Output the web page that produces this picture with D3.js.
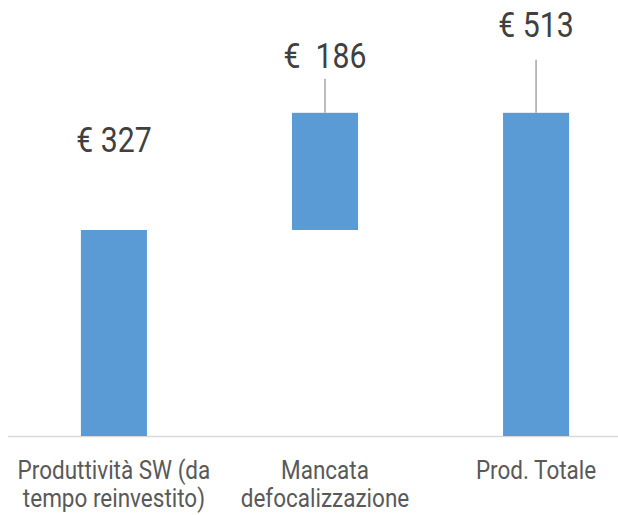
<!DOCTYPE html>
<html>
<head>
<meta charset="utf-8">
<script src="https://cdn.jsdelivr.net/npm/d3@7"></script>
<style>
  body { margin: 0; background: #fff; }
  text { font-family: Roboto, "Noto Sans", sans-serif; white-space: pre; }
</style>
</head>
<body>
<div id="wrapper"></div>
<script>
// waterfall: base + step = total
const categories = [
    ["Produttività SW (da", "tempo reinvestito)"],
    ["Mancata", "defocalizzazione"],
    ["Prod. Totale"],
]
const barStart = [0, 327, 0]
const barEnd = [327, 513, 513]
const valueLabels = ["€ 327", "€  186", "€ 513"]

function drawWaterfall() {
    const dimensions = {
        width: 618,
        height: 515,
        baseline: 436,
    }

    // how far above the bar top each value label sits, and leader line tops
    const labelLift = [78, 45, 76]
    const leaderGap = [null, 11, 23]

    const wrapper = d3.select("#wrapper")
        .append("svg")
        .attr("width", dimensions.width)
        .attr("height", dimensions.height)

    const xScaler = d3.scaleBand()
        .domain(d3.range(categories.length))
        .range([8.5, 641.5])
        .paddingInner(0.687)
        .paddingOuter(0.343)

    const yScaler = d3.scaleLinear()
        .domain([0, 600])
        .range([dimensions.baseline, 58])

    const cx = i => xScaler(i) + xScaler.bandwidth() / 2

    // axis line
    wrapper.append("line")
        .attr("x1", 8)
        .attr("x2", dimensions.width)
        .attr("y1", dimensions.baseline + 0.5)
        .attr("y2", dimensions.baseline + 0.5)
        .attr("stroke", "#d9d9d9")
        .attr("stroke-width", 1.5)

    const idx = d3.range(categories.length)

    wrapper.append("g")
        .selectAll("rect")
        .data(idx)
        .join("rect")
        .attr("x", i => xScaler(i))
        .attr("width", xScaler.bandwidth())
        .attr("y", i => yScaler(barEnd[i]))
        .attr("height", i => yScaler(barStart[i]) - yScaler(barEnd[i]))
        .attr("fill", "#5b9bd5")

    // leader lines
    wrapper.append("g")
        .selectAll("line")
        .data(idx.filter(i => leaderGap[i] !== null))
        .join("line")
        .attr("x1", i => cx(i))
        .attr("x2", i => cx(i))
        .attr("y1", i => yScaler(barEnd[i]))
        .attr("y2", i => yScaler(barEnd[i]) - labelLift[i] + leaderGap[i])
        .attr("stroke", "#a6a6a6")
        .attr("stroke-width", 1.5)

    // value labels
    wrapper.append("g")
        .selectAll("g")
        .data(idx)
        .join("g")
        .attr("transform", i => `translate(${cx(i)},${yScaler(barEnd[i]) - labelLift[i]}) scale(0.84,1)`)
        .append("text")
        .attr("text-anchor", "middle")
        .attr("font-size", "36px")
        .attr("fill", "#404040")
        .text(i => valueLabels[i])

    // category labels
    const cat = wrapper.append("g")
        .selectAll("g")
        .data(idx)
        .join("g")
        .attr("transform", i => `translate(${cx(i)},${dimensions.baseline + 43}) scale(0.9,1)`)
        .append("text")
        .attr("text-anchor", "middle")
        .attr("font-size", "25px")
        .attr("fill", "#595959")

    cat.selectAll("tspan")
        .data(i => categories[i])
        .join("tspan")
        .attr("x", 0)
        .attr("dy", (d, j) => j === 0 ? 0 : 28)
        .text(d => d)
}

drawWaterfall()
</script>
</body>
</html>
